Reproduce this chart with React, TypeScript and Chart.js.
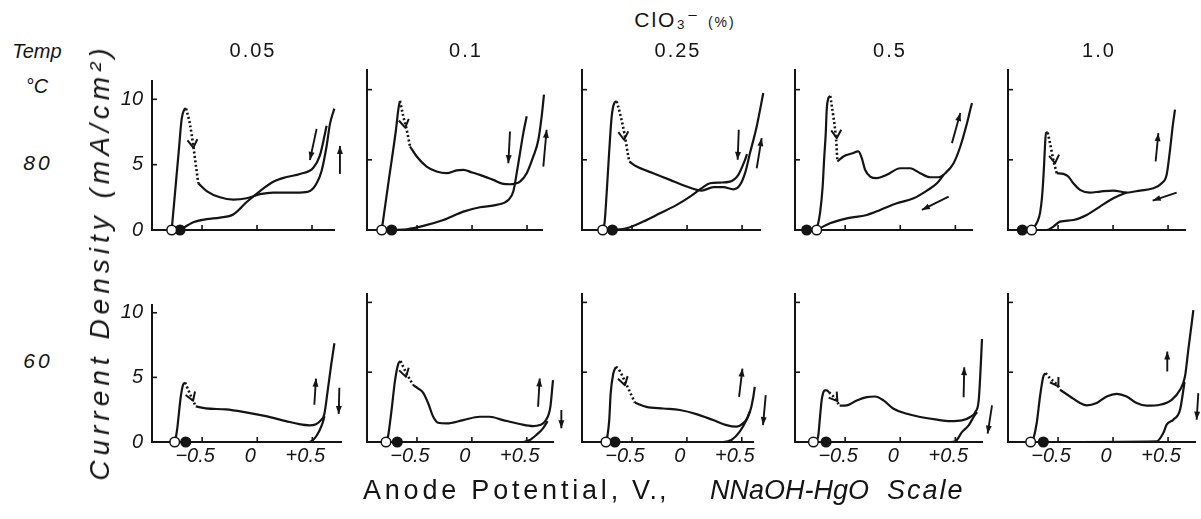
import React, { useEffect, useRef } from 'react';
import { Chart, registerables } from 'chart.js';

Chart.register(...registerables);

type Pt = [number, number];
type Seg = [number, number, number, number];

// ---------------- labels ----------------
const temperatures = ['80', '60'];
const concentrations = ['0.05', '0.1', '0.25', '0.5', '1.0'];
const xTickValues = [-0.5, 0, 0.5];
const xTickLabels = ['−0.5', '0', '+0.5'];
const yTickValues = [0, 5, 10];
const yTickLabels = ['0', '5', '10'];

// ---------------- scale ranges ----------------
const xMin = -0.955;
const xMaxByPanel = [
  [0.70, 0.636, 0.663, 0.651, 0.654],
  [0.76, 0.739, 0.602, 0.742, 0.745],
];
const yMaxByRow = [11.4, 10.6];

// ---------------- rest potentials (open / filled circles) ----------------
const openCircleX = [
  [-0.776, -0.821, -0.767, -0.758, -0.74],
  [-0.749, -0.782, -0.737, -0.788, -0.749],
];
const filledCircleX = [
  [-0.70, -0.731, -0.679, -0.849, -0.825],
  [-0.649, -0.679, -0.655, -0.673, -0.634],
];

// ---------------- anodic rise to the first peak ----------------
const riseCurves: Pt[][][] = [
  [
    [[-0.776, 0], [-0.744, 3], [-0.712, 6], [-0.685, 8.5], [-0.662, 9.2], [-0.645, 9.3]],
    [[-0.821, 0], [-0.758, 3.5], [-0.694, 7], [-0.668, 8.7], [-0.655, 9.2]],
    [[-0.767, 0], [-0.75, 0.5], [-0.731, 2.6], [-0.707, 5.7], [-0.685, 8.1], [-0.661, 9.05], [-0.64, 9.17]],
    [[-0.758, 0], [-0.728, 1.2], [-0.704, 3.1], [-0.691, 5.0], [-0.676, 6.9], [-0.667, 8.6], [-0.652, 9.4], [-0.635, 9.55]],
    [[-0.74, 0], [-0.694, 0.5], [-0.664, 1.2], [-0.643, 2.6], [-0.628, 4.5], [-0.619, 5.95], [-0.61, 6.9], [-0.594, 6.95]],
  ],
  [
    [[-0.745, 0], [-0.725, 1.1], [-0.71, 2.3], [-0.694, 3.5], [-0.673, 4.43], [-0.655, 4.6]],
    [[-0.775, 0], [-0.761, 0.5], [-0.731, 2.3], [-0.70, 4.4], [-0.67, 5.6], [-0.649, 5.8]],
    [[-0.731, 0], [-0.707, 1.57], [-0.694, 3.48], [-0.67, 4.9], [-0.646, 5.38]],
    [[-0.76, 0], [-0.743, 0.5], [-0.728, 1.8], [-0.713, 3.0], [-0.70, 3.5], [-0.685, 3.7], [-0.665, 3.7], [-0.645, 3.55]],
    [[-0.735, 0], [-0.725, 0.2], [-0.694, 1.36], [-0.664, 3.26], [-0.634, 4.69], [-0.613, 4.93]],
  ],
];

// ---------------- dotted decay after the peak ----------------
const dottedCurves: Pt[][][] = [
  [
    [[-0.645, 9.3], [-0.61, 8.1], [-0.579, 6.4], [-0.549, 4.5], [-0.534, 3.57]],
    [[-0.655, 9.2], [-0.625, 8.1], [-0.594, 7.14], [-0.564, 5.95]],
    [[-0.64, 9.17], [-0.61, 8.33], [-0.57, 6.9], [-0.534, 5.24], [-0.525, 4.88]],
    [[-0.635, 9.55], [-0.607, 8.1], [-0.582, 6.43], [-0.57, 4.88]],
    [[-0.594, 6.95], [-0.567, 5.95], [-0.543, 5.0], [-0.5125, 4.05]],
  ],
  [
    [[-0.655, 4.6], [-0.634, 4.19], [-0.604, 3.6], [-0.558, 2.76]],
    [[-0.649, 5.8], [-0.62, 5.3], [-0.594, 4.9], [-0.534, 4.07]],
    [[-0.646, 5.38], [-0.625, 5.26], [-0.555, 4.19], [-0.473, 2.81]],
    [[-0.645, 3.55], [-0.6, 3.2], [-0.55, 2.6]],
    [[-0.613, 4.93], [-0.573, 4.57], [-0.497, 3.98], [-0.482, 3.74]],
  ],
];

// ---------------- forward (anodic) sweep continuation ----------------
const forwardCurves: Pt[][][] = [
  [
    [[-0.534, 3.57], [-0.458, 2.98], [-0.337, 2.5], [-0.216, 2.33], [-0.094, 2.43], [0.027, 2.74], [0.148, 2.86], [0.269, 2.86], [0.39, 2.86], [0.481, 2.98], [0.542, 3.57], [0.587, 4.52], [0.633, 6.43], [0.663, 8.1], [0.703, 9.29]],
    [[-0.564, 5.95], [-0.503, 5.24], [-0.413, 4.52], [-0.322, 4.17], [-0.231, 4.05], [-0.14, 4.25], [-0.079, 4.29], [0.0, 4.1], [0.072, 3.93], [0.193, 3.57], [0.284, 3.29], [0.345, 3.26], [0.39, 3.3], [0.436, 3.45], [0.497, 4.05], [0.557, 5.24], [0.603, 6.43], [0.633, 8.1], [0.654, 9.64]],
    [[-0.525, 4.88], [-0.458, 4.52], [-0.307, 4.05], [-0.155, 3.57], [-0.0035, 3.1], [0.133, 2.81], [0.239, 3.05], [0.33, 3.05], [0.421, 2.9], [0.481, 3.21], [0.527, 4.05], [0.572, 5.48], [0.633, 7.38], [0.693, 9.76]],
    [[-0.57, 4.88], [-0.516, 5.24], [-0.44, 5.45], [-0.379, 5.6], [-0.349, 5.12], [-0.319, 4.29], [-0.273, 3.81], [-0.213, 3.69], [-0.122, 3.93], [-0.0005, 4.4], [0.09, 4.4], [0.181, 4.05], [0.272, 3.76], [0.348, 3.76], [0.409, 4.05], [0.484, 4.76], [0.545, 5.95], [0.606, 7.62], [0.651, 9.05], [0.687, 9.88]],
    [[-0.5125, 4.05], [-0.452, 4.0], [-0.407, 3.81], [-0.361, 3.33], [-0.3005, 2.86], [-0.21, 2.67], [-0.119, 2.74], [0.0026, 2.81], [0.124, 2.67], [0.245, 2.81], [0.366, 2.98], [0.442, 3.33], [0.487, 3.93], [0.518, 5.71], [0.542, 7.38], [0.563, 8.57]],
  ],
  [
    [[-0.558, 2.76], [-0.467, 2.6], [-0.285, 2.52], [-0.103, 2.29], [0.078, 2.0], [0.26, 1.62], [0.381, 1.38], [0.472, 1.29], [0.533, 1.38], [0.578, 1.69], [0.609, 2.17], [0.639, 3.95], [0.669, 5.86], [0.70, 7.64]],
    [[-0.534, 4.07], [-0.488, 3.83], [-0.443, 3.52], [-0.397, 2.76], [-0.352, 1.81], [-0.307, 1.38], [-0.231, 1.33], [-0.079, 1.57], [0.072, 1.81], [0.163, 1.81], [0.284, 1.57], [0.436, 1.29], [0.557, 1.14], [0.618, 1.21], [0.675, 1.57], [0.715, 2.52], [0.739, 4.43], [0.76, 5.86], [0.775, 6.57]],
    [[-0.473, 2.81], [-0.367, 2.52], [-0.216, 2.4], [-0.064, 2.29], [0.087, 2.0], [0.239, 1.57], [0.36, 1.21], [0.451, 1.1], [0.512, 1.33], [0.557, 1.81], [0.587, 2.52], [0.618, 3.95], [0.633, 5.38], [0.654, 7.29]],
    [[-0.55, 2.6], [-0.485, 2.62], [-0.394, 2.98], [-0.3035, 3.21], [-0.228, 3.26], [-0.152, 2.98], [-0.061, 2.38], [0.06, 2.02], [0.181, 1.79], [0.333, 1.6], [0.454, 1.5], [0.56, 1.55], [0.636, 1.79], [0.681, 2.14], [0.712, 2.98], [0.727, 4.88], [0.742, 7.38]],
    [[-0.482, 3.74], [-0.391, 3.26], [-0.3005, 2.79], [-0.24, 2.62], [-0.149, 2.79], [-0.058, 3.26], [0.033, 3.45], [0.124, 3.26], [0.215, 2.79], [0.306, 2.6], [0.427, 2.67], [0.533, 3.02], [0.609, 3.74], [0.654, 4.69], [0.684, 6.6], [0.715, 8.5], [0.73, 9.45]],
  ],
];

// ---------------- reverse (cathodic) sweep ----------------
const reverseCurves: Pt[][][] = [
  [
    [[-0.70, 0], [-0.579, 0.6], [-0.458, 0.83], [-0.337, 0.95], [-0.216, 1.19], [-0.094, 2.14], [0.027, 2.98], [0.148, 3.69], [0.269, 4.05], [0.39, 4.29], [0.512, 4.76], [0.572, 5.71], [0.618, 7.38], [0.633, 7.98]],
    [[-0.731, 0], [-0.594, 0.05], [-0.443, 0.29], [-0.261, 0.71], [-0.079, 1.31], [0.072, 1.62], [0.224, 1.79], [0.33, 2.14], [0.375, 2.74], [0.406, 4.05], [0.436, 5.48], [0.466, 6.9], [0.497, 8.1]],
    [[-0.679, 0], [-0.549, 0.12], [-0.397, 0.6], [-0.246, 1.19], [-0.094, 1.79], [0.027, 2.38], [0.133, 2.98], [0.209, 3.33], [0.30, 3.38], [0.39, 3.45], [0.466, 3.93], [0.527, 5.0], [0.545, 5.4]],
    [[-0.758, 0], [-0.637, 0.48], [-0.485, 0.83], [-0.3035, 1.07], [-0.182, 1.43], [-0.031, 1.9], [0.121, 2.26], [0.242, 2.81], [0.333, 3.33], [0.393, 3.93]],
    [[-0.74, 0], [-0.6035, 0], [-0.543, 0.24], [-0.482, 0.6], [-0.361, 0.71], [-0.24, 1.07], [-0.119, 1.67], [0.0026, 2.26], [0.124, 2.67]],
  ],
  [
    [[-0.649, 0], [0.472, 0], [0.518, 0.26], [0.563, 0.86], [0.594, 1.5], [0.61, 2.0]],
    [[-0.679, 0], [0.466, 0], [0.527, 0.14], [0.587, 0.5], [0.648, 0.98], [0.69, 1.5]],
    [[-0.655, 0], [0.33, 0], [0.406, 0.14], [0.481, 0.74], [0.542, 1.57], [0.572, 2.17]],
    [[-0.673, 0], [0.454, 0], [0.50, 0.05], [0.56, 0.71], [0.621, 1.19], [0.666, 1.79], [0.697, 2.14]],
    [[-0.634, 0], [0.397, 0.05], [0.457, 0.64], [0.487, 1.24], [0.548, 1.6], [0.609, 2.31], [0.65, 4.3]],
  ],
];

// ---------------- sweep direction arrows (x1, y1 -> x2, y2) ----------------
const sweepArrows: Seg[][][] = [
  [
    [[0.542, 7.74, 0.481, 5.36], [0.754, 4.29, 0.754, 6.43]],
    [[0.345, 7.02, 0.33, 4.76], [0.648, 4.52, 0.678, 7.14]],
    [[0.47, 7.14, 0.46, 5.0], [0.633, 4.4, 0.678, 6.55]],
    [[0.469, 6.19, 0.545, 8.33], [0.439, 2.38, 0.1965, 1.43]],
    [[0.387, 4.88, 0.412, 6.9], [0.578, 2.67, 0.36, 2.1]],
  ],
  [
    [[0.518, 2.88, 0.533, 4.9], [0.745, 4.19, 0.739, 2.17]],
    [[0.603, 2.52, 0.618, 4.55], [0.815, 2.29, 0.815, 0.98]],
    [[0.475, 3.24, 0.506, 5.26], [0.718, 3.36, 0.693, 1.21]],
    [[0.575, 3.21, 0.581, 5.36], [0.833, 2.62, 0.793, 0.6]],
    [[0.493, 5.05, 0.493, 6.48], [0.775, 3.5, 0.76, 1.6]],
  ],
];

// arrowheads on the dotted decay
const decayArrows: Seg[][] = [
  [[-0.595, 7.5, -0.579, 6.3], [-0.625, 8.1, -0.608, 7.3], [-0.585, 7.5, -0.573, 6.43], [-0.585, 7.6, -0.576, 6.55], [-0.54, 5.6, -0.528, 4.76]],
  [[-0.6, 3.6, -0.582, 3.19], [-0.625, 5.4, -0.6, 4.67], [-0.59, 4.8, -0.564, 4.07], [-0.6, 3.25, -0.57, 2.93], [-0.53, 4.4, -0.497, 3.98]],
];

// ---------------- layout / style ----------------
const INK = '#141414';
const FONT = '"Liberation Sans", "DejaVu Sans", sans-serif';
const AXIS_X = [152, 367, 582, 795, 1008];
const BASE_Y = [230, 442];
const PX_PER_V = 110;
const PX_PER_MA = 14;
const PAD = { l: 60, r: 45, t: 10, b: 40 };

const arrowHeads = {
  id: 'arrowHeads',
  afterDatasetsDraw(chart: any) {
    const ctx = chart.ctx;
    chart.data.datasets.forEach((ds: any, i: number) => {
      if (!ds.arrowHead) return;
      const pts = chart.getDatasetMeta(i).data;
      if (pts.length < 2) return;
      const a = pts[0];
      const b = pts[pts.length - 1];
      const ang = Math.atan2(b.y - a.y, b.x - a.x);
      const open = ds.arrowHead === 'open';
      const len = 8;
      const half = open ? 5 : 3;
      const bx = b.x - len * Math.cos(ang);
      const by = b.y - len * Math.sin(ang);
      const lx = bx - half * Math.sin(ang);
      const ly = by + half * Math.cos(ang);
      const rx = bx + half * Math.sin(ang);
      const ry = by - half * Math.cos(ang);
      ctx.save();
      ctx.strokeStyle = INK;
      ctx.fillStyle = INK;
      ctx.lineWidth = 2;
      ctx.lineJoin = 'round';
      ctx.beginPath();
      if (open) {
        ctx.moveTo(lx, ly);
        ctx.lineTo(b.x, b.y);
        ctx.lineTo(rx, ry);
        ctx.stroke();
      } else {
        ctx.moveTo(b.x, b.y);
        ctx.lineTo(lx, ly);
        ctx.lineTo(rx, ry);
        ctx.closePath();
        ctx.fill();
      }
      ctx.restore();
    });
  },
};

const innerTicks = {
  id: 'innerTicks',
  afterDraw(chart: any) {
    const { ctx, chartArea: ca, scales } = chart;
    ctx.save();
    ctx.strokeStyle = INK;
    ctx.lineWidth = 1.6;
    scales.x.ticks.forEach((t: any) => {
      const p = scales.x.getPixelForValue(t.value);
      ctx.beginPath();
      ctx.moveTo(p, ca.bottom);
      ctx.lineTo(p, ca.bottom - 5);
      ctx.stroke();
    });
    scales.y.ticks.forEach((t: any) => {
      if (t.value === 0) return;
      const p = scales.y.getPixelForValue(t.value);
      ctx.beginPath();
      ctx.moveTo(ca.left, p);
      ctx.lineTo(ca.left + 5, p);
      ctx.stroke();
    });
    ctx.restore();
  },
};

function Panel({ r, c }: { r: number; c: number }) {
  const ref = useRef<HTMLCanvasElement | null>(null);
  const xMax = xMaxByPanel[r][c];
  const yMax = yMaxByRow[r];
  const plotW = Math.round((xMax - xMin) * PX_PER_V);
  const plotH = Math.round(yMax * PX_PER_MA);
  const W = PAD.l + plotW + PAD.r;
  const H = PAD.t + plotH + PAD.b;
  const left = AXIS_X[c] - PAD.l;
  const top = BASE_Y[r] - plotH - PAD.t;

  useEffect(() => {
    const canvas = ref.current;
    if (!canvas) return;
    const xy = (pts: Pt[]) => pts.map(([x, y]) => ({ x, y }));
    const curve = (pts: Pt[], dotted = false) => ({
      data: xy(pts),
      borderColor: INK,
      borderWidth: dotted ? 2.6 : 2.2,
      borderDash: dotted ? [2, 2.4] : [],
      pointRadius: 0,
      cubicInterpolationMode: 'monotone',
      fill: false,
      clip: false,
    });
    const arrow = (s: Seg, head: string) => ({
      data: [{ x: s[0], y: s[1] }, { x: s[2], y: s[3] }],
      borderColor: INK,
      borderWidth: 1.9,
      pointRadius: 0,
      showLine: head === 'filled',
      tension: 0,
      fill: false,
      clip: false,
      arrowHead: head,
    });
    const circle = (x: number, fillColor: string) => ({
      data: [{ x, y: 0 }],
      showLine: false,
      pointRadius: 4.8,
      pointBackgroundColor: fillColor,
      pointBorderColor: INK,
      pointBorderWidth: 1.5,
      clip: false,
      order: -1,
    });
    const tickFont = { family: FONT, size: 20, style: 'italic' as const };
    const chart = new Chart(canvas, {
      type: 'line',
      data: {
        datasets: [
          circle(openCircleX[r][c], '#ffffff'),
          circle(filledCircleX[r][c], INK),
          curve(riseCurves[r][c]),
          curve(dottedCurves[r][c], true),
          curve(forwardCurves[r][c]),
          curve(reverseCurves[r][c]),
          ...sweepArrows[r][c].map((s) => arrow(s, 'filled')),
          arrow(decayArrows[r][c], 'open'),
        ] as any,
      },
      options: {
        animation: false,
        responsive: false,
        maintainAspectRatio: false,
        events: [],
        layout: { padding: { left: 0, right: PAD.r, top: PAD.t, bottom: 0 } },
        plugins: { legend: { display: false }, tooltip: { enabled: false } },
        scales: {
          x: {
            type: 'linear',
            min: xMin,
            max: xMax,
            bounds: 'data',
            afterBuildTicks: (s: any) => {
              s.ticks = xTickValues.map((v) => ({ value: v }));
            },
            afterFit: (s: any) => {
              s.height = PAD.b;
            },
            grid: { display: false, drawTicks: false },
            border: { display: true, color: INK, width: 2 },
            ticks: {
              display: r === 1,
              autoSkip: false,
              maxRotation: 0,
              padding: 2,
              labelOffset: -7,
              color: INK,
              font: tickFont,
              callback: (_v: any, i: number) => xTickLabels[i],
            },
          },
          y: {
            type: 'linear',
            min: 0,
            max: yMax,
            bounds: 'data',
            afterBuildTicks: (s: any) => {
              s.ticks = yTickValues.map((v) => ({ value: v }));
            },
            afterFit: (s: any) => {
              s.width = PAD.l;
            },
            grid: { display: false, drawTicks: false },
            border: { display: true, color: INK, width: 2 },
            ticks: {
              display: c === 0,
              autoSkip: false,
              padding: 9,
              color: INK,
              font: tickFont,
              callback: (_v: any, i: number) => yTickLabels[i],
            },
          },
        },
      } as any,
      plugins: [innerTicks, arrowHeads],
    });
    return () => chart.destroy();
  }, [r, c]);

  return (
    <canvas
      ref={ref}
      width={W}
      height={H}
      style={{ position: 'absolute', left, top, width: W, height: H }}
    />
  );
}

function Txt(props: {
  x: number;
  y: number;
  size: number;
  italic?: boolean;
  ls?: number;
  rotate?: boolean;
  anchor?: 'center' | 'left';
  children: React.ReactNode;
}) {
  const { x, y, size, italic, ls = 0, rotate, anchor = 'center', children } = props;
  const tx = anchor === 'center' ? '-50%' : '0';
  return (
    <div
      style={{
        position: 'absolute',
        left: x,
        top: y,
        transform: `translate(${tx}, -50%)${rotate ? ' rotate(-90deg)' : ''}`,
        fontFamily: FONT,
        fontSize: size,
        fontStyle: italic ? 'italic' : 'normal',
        letterSpacing: ls,
        whiteSpace: 'nowrap',
        lineHeight: 1,
        color: INK,
      }}
    >
      {children}
    </div>
  );
}

const HEADER_X = [253, 466, 678, 890, 1099];
const TEMP_Y = [162, 360];

export default function App() {
  const panels = [];
  for (let r = 0; r < 2; r++) for (let c = 0; c < 5; c++) panels.push(<Panel key={`${r}-${c}`} r={r} c={c} />);
  return (
    <div
      style={{
        position: 'absolute',
        left: 0,
        top: 0,
        width: 1201,
        height: 519,
        background: '#ffffff',
        overflow: 'hidden',
      }}
    >
      {panels}
      <Txt x={37} y={51} size={20} italic>Temp</Txt>
      <Txt x={37} y={86} size={20} italic>°C</Txt>
      {temperatures.map((t, i) => (
        <Txt key={t} x={38} y={TEMP_Y[i]} size={21} italic ls={3}>{t}</Txt>
      ))}
      <Txt x={100} y={262} size={28} italic ls={5} rotate>Current Density (mA/cm²)</Txt>
      <Txt x={685} y={19} size={21} ls={2}>
        ClO₃⁻ <span style={{ fontSize: 14 }}>(%)</span>
      </Txt>
      {concentrations.map((t, i) => (
        <Txt key={t} x={HEADER_X[i]} y={50} size={20} ls={2}>{t}</Txt>
      ))}
      <Txt x={363} y={490} size={27} ls={3.8} anchor="left">Anode Potential,</Txt>
      <Txt x={632} y={490} size={27} ls={2} anchor="left">V.,</Txt>
      <Txt x={710} y={490} size={27} ls={0} anchor="left" italic>NNaOH-HgO</Txt>
      <Txt x={887} y={490} size={27} ls={2} anchor="left" italic>Scale</Txt>
    </div>
  );
}
